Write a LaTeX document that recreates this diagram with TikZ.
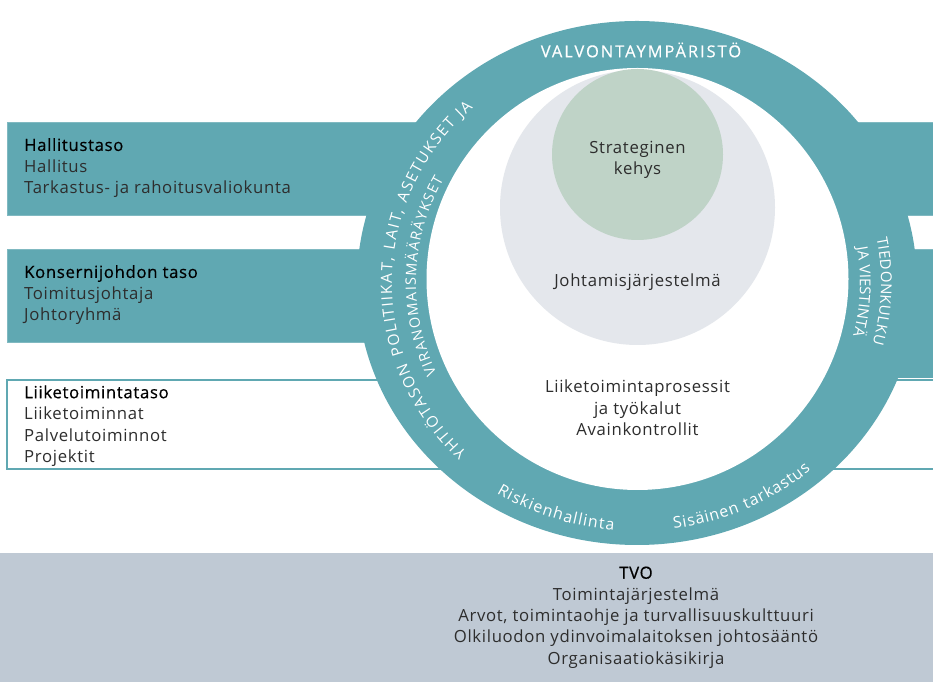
\documentclass[tikz,border=0pt]{standalone}
\usepackage{fontspec}
\setmainfont[LetterSpace=4]{Open Sans}
\newfontfamily\headfont[LetterSpace=4,FakeBold=0.5]{Open Sans}
\newfontfamily\capsfont[LetterSpace=12,FakeBold=0.5]{Open Sans}
\usepackage{tikz}
\usetikzlibrary{decorations.text}
\usetikzlibrary{positioning}

\definecolor{ring}{RGB}{96,168,178}
\definecolor{mgmt}{RGB}{228,231,236}
\definecolor{strat}{RGB}{191,211,199}
\definecolor{tvo}{RGB}{191,201,212}
\definecolor{txt}{RGB}{45,45,45}

\begin{document}
\begin{tikzpicture}[x=1bp, y=1bp]
    \tikzstyle{bar}=[fill=ring, draw=ring!80!white, line width=1bp]
    \tikzstyle{openbar}=[fill=white, draw=ring, line width=1.5bp]
    \tikzstyle{lvl}=[anchor=west, inner sep=0pt, align=left, text=txt, font=\fontsize{16.8}{21.5}\selectfont]
    \tikzstyle{ctr}=[inner sep=0pt, align=center, text=txt, font=\fontsize{16.8}{21.5}\selectfont]
    \tikzset{ringtext/.style 2 args={decoration={text along path,
      text align={fit to path}, text={|\color{white}#1|#2}}, decorate}}
    \useasboundingbox (0,0) rectangle (933,682);
    % base and level bars, all behind the ring
    \fill[tvo] (0,0) rectangle (933,129);
    \draw[bar] (7,466) rectangle (940,559);
    \draw[bar] (7,339) rectangle (940,432);
    \fill[ring] (800,304) rectangle (940,432);
    \draw[openbar] (7,213) rectangle (940,302);
    % the ring and the two circles inside it
    \coordinate (ctr) at (637,399);
    \coordinate (hole) at (637.5,403);
    \fill[ring] (ctr) ellipse [x radius=280, y radius=262];
    \fill[white] (hole) circle [radius=211];
    \fill[mgmt] (637.5,474.5) circle [radius=137.5];
    \fill[strat] (637.5,527.5) circle [radius=85.5];
    % texts on the ring
    \node[inner sep=0pt, text=white, font=\capsfont\fontsize{16.5}{17}\selectfont] (valv) at (641,632) {VALVONTAYMPÄRISTÖ};
    \path[ringtext={\fontsize{15.5}{16}\selectfont}{YHTIÖTASON POLITIIKAT, LAIT, ASETUKSET JA}]
      ([shift={(226:245 and 236)}]ctr) arc[start angle=226, end angle=132, x radius=245, y radius=236];
    \path[ringtext={\fontsize{14.5}{15}\selectfont}{VIRANOMAISMÄÄRÄYKSET}]
      ([shift={(205:221 and 213)}]ctr) arc[start angle=205, end angle=151, x radius=221, y radius=213];
    \path[ringtext={\fontsize{15}{15}\selectfont}{TIEDONKULKU}]
      ([shift={(11:244 and 234)}]ctr) arc[start angle=11, end angle=-15, x radius=244, y radius=234];
    \path[ringtext={\fontsize{15}{15}\selectfont}{JA VIESTINTÄ}]
      ([shift={(9.5:223 and 214)}]ctr) arc[start angle=9.5, end angle=-13.7, x radius=223, y radius=214];
    \path[ringtext={\fontsize{16}{16}\selectfont}{Riskienhallinta}]
      ([shift={(238:265 and 248)}]ctr) arc[start angle=238, end angle=265, x radius=265, y radius=248];
    \path[ringtext={\fontsize{16}{16}\selectfont}{Sisäinen tarkastus}]
      ([shift={(278:265 and 248)}]ctr) arc[start angle=278, end angle=311, x radius=265, y radius=248];
    % texts inside
    \node[ctr] (strat) at (637.5,522) {Strateginen\\kehys};
    \node[ctr] (johto) at (637.5,400) {Johtamisjärjestelmä};
    \node[ctr] (proc) at (637.5,274) {Liiketoimintaprosessit\\ja työkalut\\Avainkontrollit};
    % level texts
    \node[lvl] (board) at (24,514) {{\headfont\color{black}Hallitustaso}\\Hallitus\\Tarkastus- ja rahoitusvaliokunta};
    \node[lvl] (group) at (24,387) {{\headfont\color{black}Konsernijohdon taso}\\Toimitusjohtaja\\Johtoryhmä};
    \node[lvl] (biz) at (24,256) {{\headfont\color{black}Liiketoimintataso}\\Liiketoiminnat\\Palvelutoiminnot\\Projektit};
    \node[ctr] (tvo) at (636,64.5) {{\headfont\color{black}TVO}\\Toimintajärjestelmä\\Arvot, toimintaohje ja turvallisuuskulttuuri\\Olkiluodon ydinvoimalaitoksen johtosääntö\\Organisaatiokäsikirja};
\end{tikzpicture}
\end{document}
